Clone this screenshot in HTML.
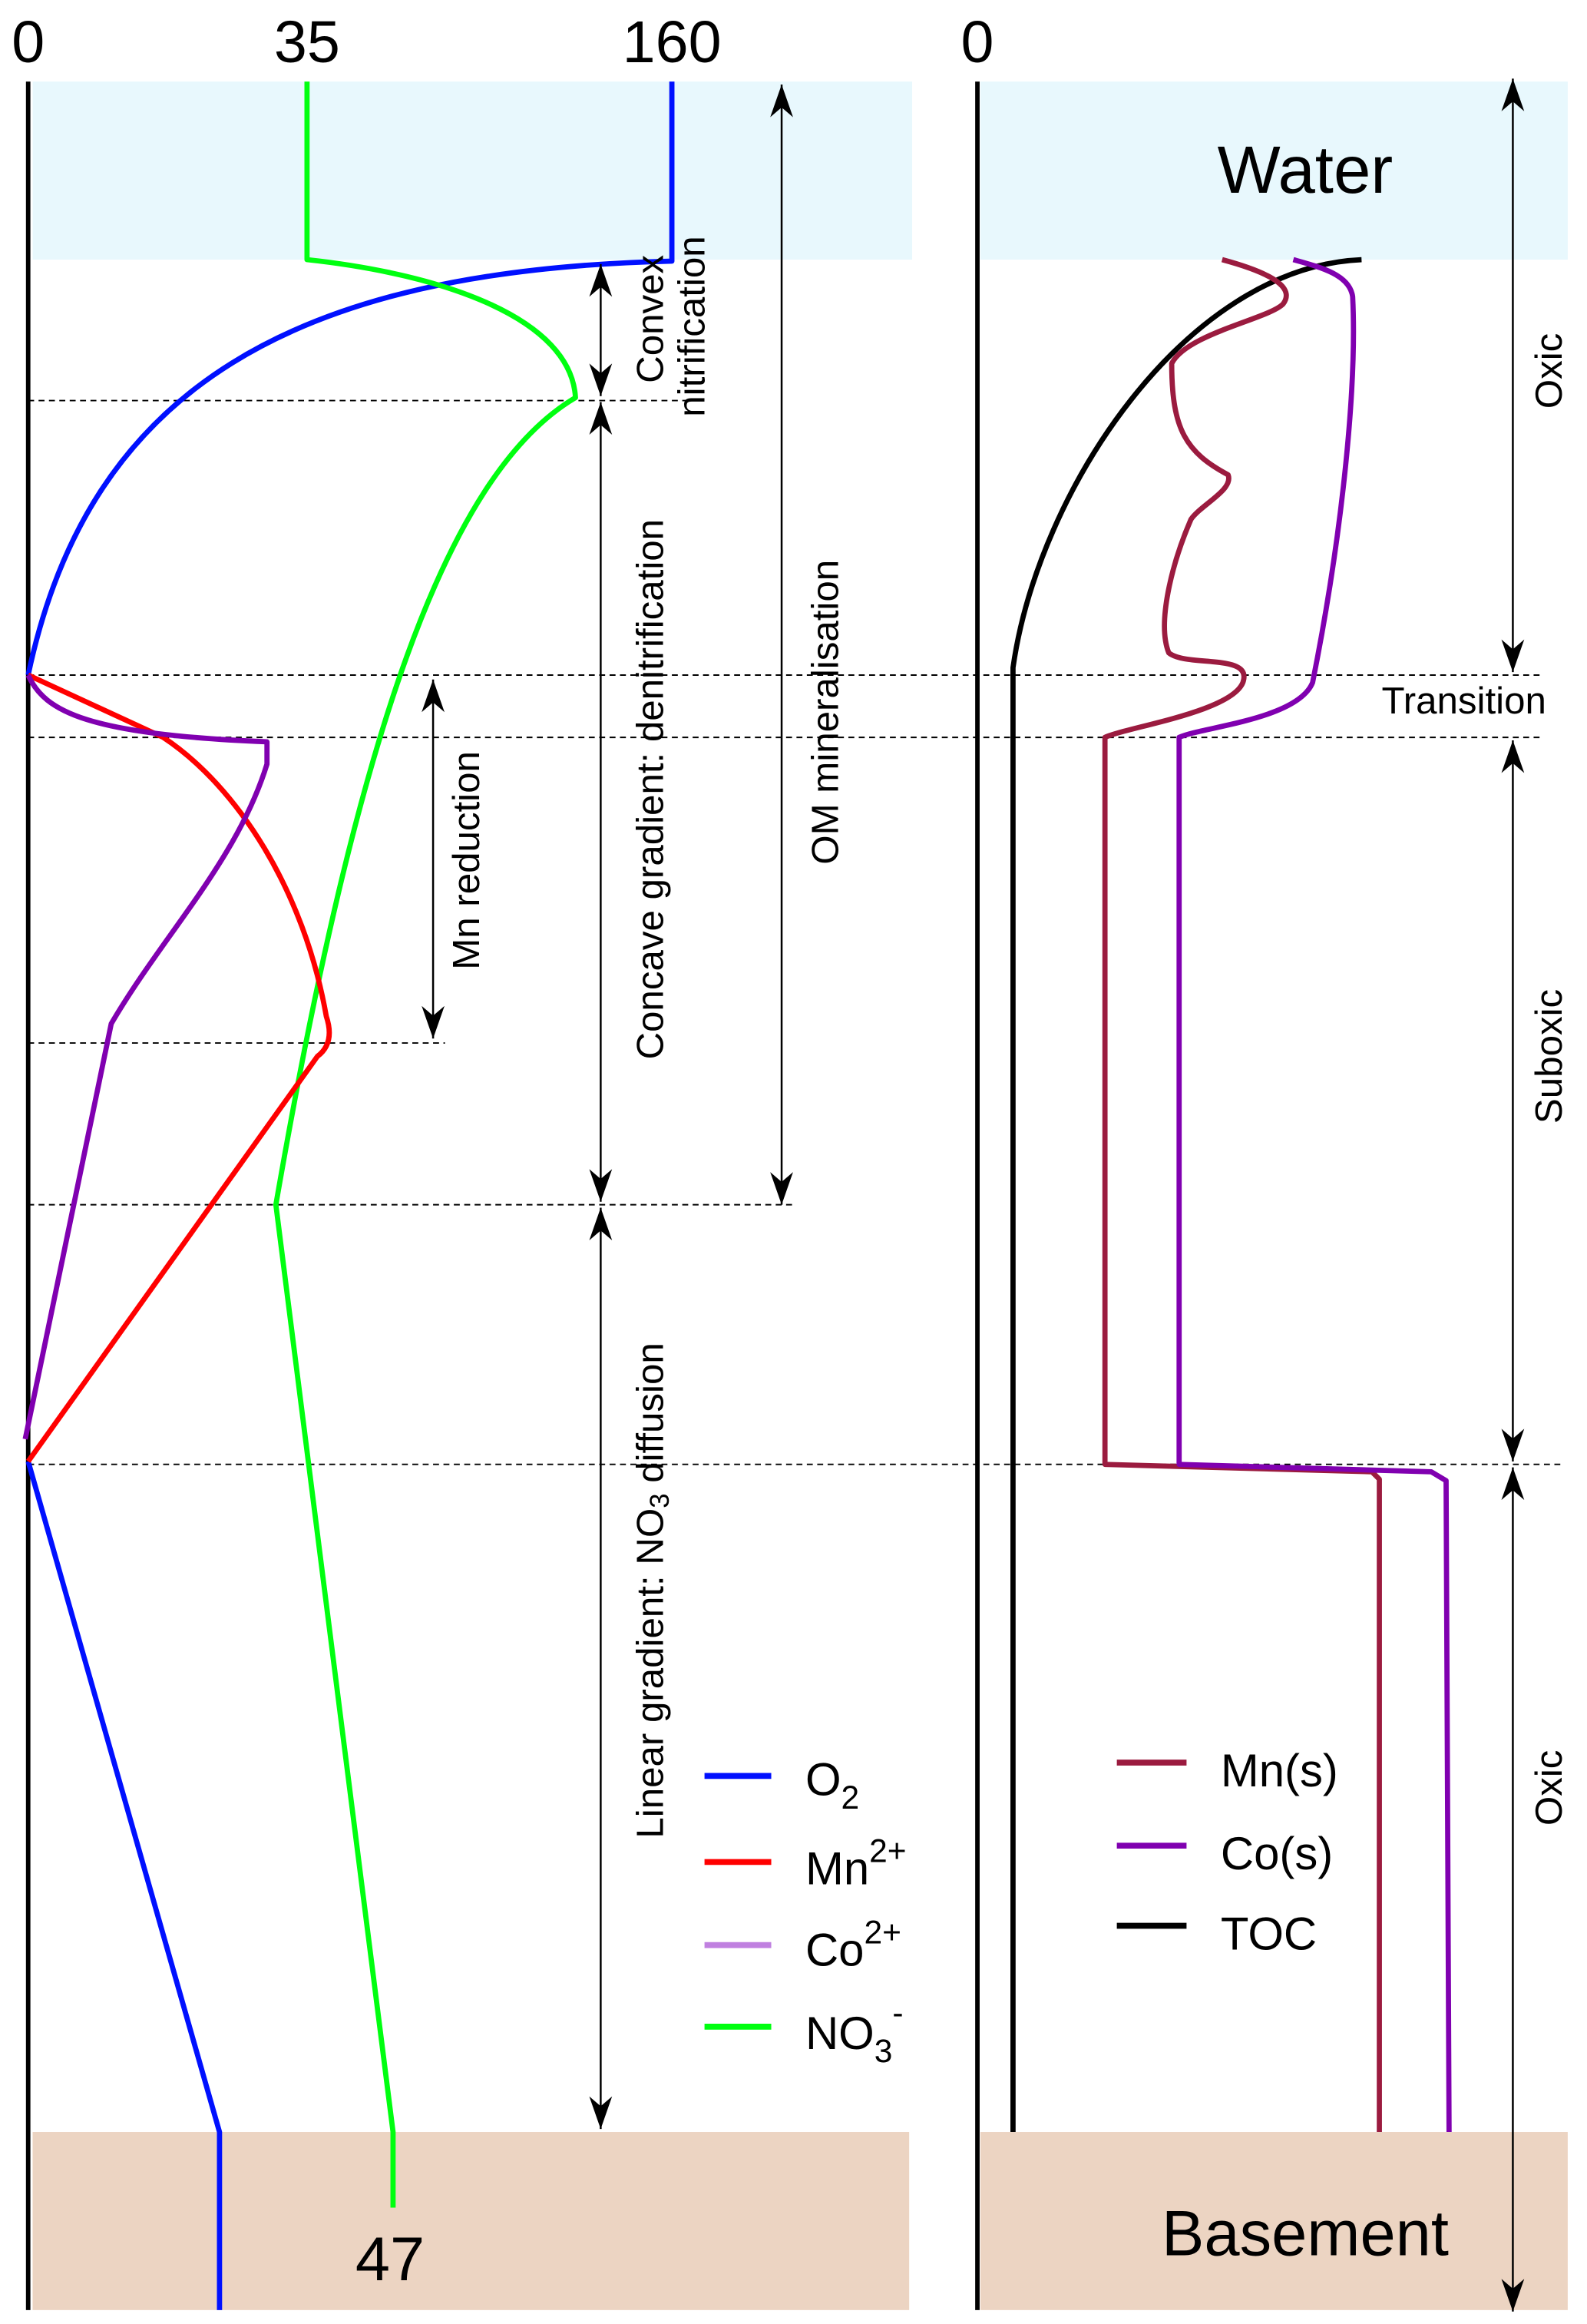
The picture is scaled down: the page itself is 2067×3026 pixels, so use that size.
<!DOCTYPE html>
<html><head><meta charset="utf-8"><style>
html,body{margin:0;padding:0;background:#fff;}
svg{display:block;}
text{font-family:"Liberation Sans",Arial,sans-serif;fill:#000;}
</style></head><body>
<svg width="2067" height="3026" viewBox="0 0 1070 1566.4" preserveAspectRatio="none" xmlns="http://www.w3.org/2000/svg">
<defs>
<marker id="ah2" viewBox="0 0 10 10" refX="10" refY="5" markerWidth="22" markerHeight="22" markerUnits="userSpaceOnUse" orient="auto-start-reverse">
<path d="M0,1.5 L10,5 L0,8.5 L3,5 Z" fill="#000"/>
</marker>
</defs>
<rect x="22" y="55" width="593" height="120" fill="#e8f8fd"/>
<rect x="661" y="55" width="396" height="120" fill="#e8f8fd"/>
<rect x="22" y="1437" width="591" height="120" fill="#ecd4c2"/>
<rect x="661" y="1437" width="396" height="120" fill="#ecd4c2"/>
<line x1="19" y1="55" x2="19" y2="1557" stroke="#000" stroke-width="3"/>
<line x1="659" y1="55" x2="659" y2="1557" stroke="#000" stroke-width="3"/>
<text x="19" y="42" font-size="40" text-anchor="middle">0</text>
<text x="207" y="42" font-size="40" text-anchor="middle">35</text>
<text x="453" y="42" font-size="40" text-anchor="middle">160</text>
<text x="659" y="42" font-size="40" text-anchor="middle">0</text>
<g stroke="#000" stroke-width="1" stroke-dasharray="4,3">
<line x1="19" y1="270" x2="470" y2="270"/>
<line x1="19" y1="455" x2="1040" y2="455"/>
<line x1="19" y1="497" x2="1040" y2="497"/>
<line x1="19" y1="703" x2="300" y2="703"/>
<line x1="19" y1="812" x2="535" y2="812"/>
<line x1="19" y1="987" x2="1055" y2="987"/>
</g>
<g fill="none" stroke-width="3.5" stroke-linejoin="round">
<path d="M453,55 L453,176 C200,182 60,260 19,455" stroke="#0010ff"/>
<path d="M19,985 L148,1437 L148,1557" stroke="#0010ff"/>
<path d="M207,55 L207,175 C300,185 385,215 388,268 C300,320 240,500 186,812 L265,1437 L265,1488" stroke="#00ff10"/>
<path d="M19,455 L110,497 C160,530 205,600 220,685 Q226,703 214,712 L19,985" stroke="#ff0000"/>
<path d="M19,455 C30,480 60,495 180,500 L180,515 C160,580 110,630 75,690 L17,970" stroke="#8000b0"/>
</g>
<g fill="none" stroke-width="3.5" stroke-linejoin="round">
<path d="M918,175 C800,180 700,330 683,450 L683,1437" stroke="#000"/>
<path d="M824,175 C850,182 875,192 865,205 C855,215 800,225 790,245 C790,290 800,305 828,320 C832,330 810,340 803,350 C790,380 780,420 788,440 C800,450 845,440 838,460 C830,480 760,490 745,497 L745,987 L925,992 L930,997 L930,1437" stroke="#9b1b3f"/>
<path d="M872,175 C890,180 910,185 912,200 C915,260 905,360 885,460 C875,485 810,490 795,497 L795,987 L965,992 L975,998 L977,1437" stroke="#8000b0"/>
</g>
<g stroke="#000" stroke-width="1.3" fill="none">
<line x1="405" y1="178" x2="405" y2="267" marker-start="url(#ah2)" marker-end="url(#ah2)"/>
<line x1="405" y1="271" x2="405" y2="810" marker-start="url(#ah2)" marker-end="url(#ah2)"/>
<line x1="405" y1="814" x2="405" y2="1435" marker-start="url(#ah2)" marker-end="url(#ah2)"/>
<line x1="527" y1="57" x2="527" y2="812" marker-start="url(#ah2)" marker-end="url(#ah2)"/>
<line x1="292" y1="458" x2="292" y2="700" marker-start="url(#ah2)" marker-end="url(#ah2)"/>
<line x1="1020" y1="53" x2="1020" y2="453" marker-start="url(#ah2)" marker-end="url(#ah2)"/>
<line x1="1020" y1="499" x2="1020" y2="985" marker-start="url(#ah2)" marker-end="url(#ah2)"/>
<line x1="1020" y1="989" x2="1020" y2="1558" marker-start="url(#ah2)" marker-end="url(#ah2)"/>
</g>
<g font-size="25.5">
<text transform="translate(447,215) rotate(-90)" text-anchor="middle">Convex</text>
<text transform="translate(475,220) rotate(-90)" text-anchor="middle">nitrification</text>
<text transform="translate(447,532) rotate(-90)" text-anchor="middle">Concave gradient: denitrification</text>
<text transform="translate(565,480) rotate(-90)" text-anchor="middle">OM mineralisation</text>
<text transform="translate(323,580) rotate(-90)" text-anchor="middle">Mn reduction</text>
<text transform="translate(447,1072) rotate(-90)" text-anchor="middle">Linear gradient: NO<tspan font-size="18" dy="4">3</tspan><tspan dy="-4"> diffusion</tspan></text>
<text transform="translate(1053,250) rotate(-90)" text-anchor="middle">Oxic</text>
<text transform="translate(1053,712) rotate(-90)" text-anchor="middle">Suboxic</text>
<text transform="translate(1053,1205) rotate(-90)" text-anchor="middle">Oxic</text>
<text x="987" y="481" text-anchor="middle">Transition</text>
</g>
<text x="880" y="130" font-size="45" text-anchor="middle">Water</text>
<text x="880" y="1520" font-size="43" text-anchor="middle">Basement</text>
<text x="263" y="1537" font-size="42" text-anchor="middle">47</text>
<g stroke-width="4">
<line x1="475" y1="1197" x2="520" y2="1197" stroke="#0010ff"/>
<line x1="475" y1="1255" x2="520" y2="1255" stroke="#ff0000"/>
<line x1="475" y1="1311" x2="520" y2="1311" stroke="#c080e0"/>
<line x1="475" y1="1366" x2="520" y2="1366" stroke="#00ff10"/>
<line x1="753" y1="1188" x2="800" y2="1188" stroke="#9b1b3f"/>
<line x1="753" y1="1244" x2="800" y2="1244" stroke="#8000b0"/>
<line x1="753" y1="1298" x2="800" y2="1298" stroke="#000"/>
</g>
<g font-size="31">
<text x="543" y="1210">O<tspan font-size="22" dy="9">2</tspan></text>
<text x="543" y="1270">Mn<tspan font-size="22" dy="-15">2+</tspan></text>
<text x="543" y="1325">Co<tspan font-size="22" dy="-15">2+</tspan></text>
<text x="543" y="1381">NO<tspan font-size="22" dy="9">3</tspan><tspan font-size="22" dy="-26">-</tspan></text>
<text x="823" y="1204">Mn(s)</text>
<text x="823" y="1260">Co(s)</text>
<text x="823" y="1314">TOC</text>
</g>
</svg>
</body></html>
